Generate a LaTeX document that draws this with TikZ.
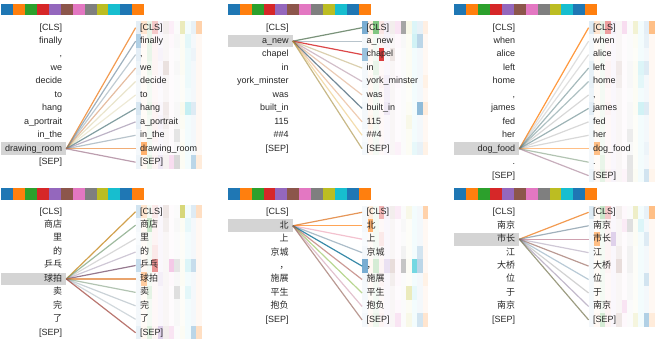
\documentclass[tikz,border=0pt]{standalone}
\usepackage{fontspec}
\setmainfont{Liberation Sans}
\newfontfamily\cjk{Noto Sans CJK SC}
\definecolor{tabblue}{HTML}{1F77B4}
\definecolor{taborange}{HTML}{FF7F0E}
\definecolor{tabgreen}{HTML}{2CA02C}
\definecolor{tabred}{HTML}{D62728}
\definecolor{tabpurple}{HTML}{9467BD}
\definecolor{tabbrown}{HTML}{8C564B}
\definecolor{tabpink}{HTML}{E377C2}
\definecolor{tabgray}{HTML}{7F7F7F}
\definecolor{tabolive}{HTML}{BCBD22}
\definecolor{tabcyan}{HTML}{17BECF}
\colorlet{hc0}{tabblue}\colorlet{hc1}{taborange}\colorlet{hc2}{tabgreen}
\colorlet{hc3}{tabred}\colorlet{hc4}{tabpurple}\colorlet{hc5}{tabbrown}
\colorlet{hc6}{tabpink}\colorlet{hc7}{tabgray}\colorlet{hc8}{tabolive}
\colorlet{hc9}{tabcyan}\colorlet{hc10}{tabblue}\colorlet{hc11}{taborange}
\tikzset{
  tokfont/.style={font=\fontsize{9}{10}\selectfont, text=black!85, inner sep=0pt, text height=6.5pt, text depth=1.8pt},
  tokL/.style={tokfont, anchor=east},
  tokR/.style={tokfont, anchor=west},
  hlbox/.style={fill=black!17, inner sep=0pt, minimum width=65pt, minimum height=12.6pt, anchor=east},
  attn/.style={line width=1.2pt},
}
% #1 id, #2 base x, #3 bar top, #4 first row y, #5 tokens, #6 source index, #7 lines, #8 heat rows
\newcommand\attnpanel[8]{%
  \pgfmathsetmacro\apbx{#2}%
  \pgfmathsetmacro\apsy{#4+(#6-1)*13.45}%
  \foreach \hk in {0,...,11} \fill[hc\hk] ({\apbx+\hk*11.9},#3) rectangle ++(11.9,11.3);
  \node[hlbox] (#1box) at ({\apbx+65},\apsy) {};
  \foreach \hrow [count=\hr from 0] in {#8} {%
    \foreach \hv [count=\hk from 0] in \hrow {%
      \fill[hc\hk, fill opacity=\hv] ({\apbx+134.3+\hk*5.5},{#4+\hr*13.45-6.725}) rectangle ++(5.5,13.45);
    }%
  }%
  \foreach \tk [count=\ti] in {#5} {%
    \node[tokL] (#1l\ti) at ({\apbx+61},{#4+(\ti-1)*13.45}) {\tk};
    \node[tokR] (#1r\ti) at ({\apbx+138.7},{#4+(\ti-1)*13.45}) {\tk};
    \coordinate (#1t\ti) at ({\apbx+134.3},{#4+(\ti-1)*13.45});
  }%
  \foreach \ti/\lc/\lo in {#7} \draw[attn, draw=\lc, draw opacity=\lo] (#1box.east) -- (#1t\ti);
}
\begin{document}
\begin{tikzpicture}[x=1pt,y=-1pt]
\useasboundingbox (0,0) rectangle (658,343);

\attnpanel{pa}{1.3}{4}{27.7}
{[CLS],finally,{,},we,decide,to,hang,a\_portrait,in\_the,drawing\_room,[SEP]}{10}
{1/taborange!85!tabbrown/.75, 2/tabblue!35!tabgray/.6, 3/tabblue!30!tabgray/.4,
 4/tabbrown!50!taborange/.45, 5/tabbrown!40!tabolive/.25, 6/tabbrown!40!tabolive/.2,
 7/tabcyan!30!tabgray!80!black/.7, 8/tabpurple!40!tabgray/.55, 9/tabblue!30!tabgray/.45,
 10/taborange!80!tabbrown/.6, 11/tabpurple!40!tabbrown/.6}
{{.12,.2,.1,.25,.08,.1,.12,.03,.3,.05,.1,.35},
 {.35,.05,.1,.05,.05,.05,.05,.05,.05,.12,.05,.05},
 {.12,.03,.1,.05,.08,.05,.03,.03,.05,.08,.08,.05},
 {.08,.03,.08,.05,.05,.18,.03,.05,.05,.08,.05,.05},
 {.05,.03,.05,.03,.05,.05,.03,.03,.03,.08,.05,.05},
 {.05,.03,.05,.03,.03,.05,.03,.03,.03,.05,.05,.05},
 {.18,.03,.08,.05,.05,.12,.03,.05,.08,.25,.15,.05},
 {.12,.03,.05,.05,.08,.1,.03,.05,.05,.05,.05,.05},
 {.05,.03,.05,.05,.05,.05,.03,.2,.03,.05,.05,.05},
 {.05,.6,.05,.03,.05,.05,.03,.05,.05,.05,.05,.05},
 {.08,.05,.1,.05,.15,.08,.25,.3,.05,.05,.3,.15}}

\attnpanel{pb}{227.8}{4}{27.7}
{[CLS],a\_new,chapel,in,york\_minster,was,built\_in,115,\#\#4,[SEP]}{2}
{1/tabgreen!35!tabgray!80!black/.75, 2/tabblue!30!tabgray/.45, 3/tabred/.85,
 4/tabolive!50!tabbrown/.4, 5/tabpurple!40!tabbrown/.4, 6/tabbrown!50!taborange/.35,
 7/tabblue!50!tabgray!70!black/.7, 8/tabbrown!40!taborange/.35, 9/taborange!50!tabolive/.35,
 10/tabolive!50!tabbrown/.6}
{{.6,.12,.6,.12,.1,.1,.2,.7,.1,.15,.1,.12},
 {.05,.05,.05,.05,.08,.05,.05,.05,.05,.2,.3,.05},
 {.45,.05,.05,.9,.05,.15,.03,.03,.05,.05,.05,.05},
 {.05,.03,.1,.03,.05,.05,.03,.03,.05,.05,.05,.05},
 {.05,.05,.05,.05,.1,.05,.05,.03,.05,.05,.05,.1},
 {.03,.05,.05,.03,.1,.05,.03,.03,.03,.05,.05,.05},
 {.05,.05,.05,.03,.15,.05,.03,.03,.05,.05,.5,.15},
 {.05,.08,.05,.03,.05,.05,.03,.03,.1,.05,.05,.05},
 {.03,.05,.05,.03,.05,.05,.03,.03,.05,.05,.05,.05},
 {.05,.05,.05,.03,.05,.05,.1,.03,.05,.1,.1,.1}}

\attnpanel{pc}{454.3}{4}{27.7}
{[CLS],when,alice,left,home,{,},james,fed,her,dog\_food,.,[SEP]}{10}
{1/taborange/.8, 2/tabgray/.25, 3/tabgray/.25, 4/tabcyan!30!tabgray!80!black/.5,
 5/tabcyan!30!tabgray!80!black/.45, 6/tabgray/.3, 7/tabcyan!30!tabgray!80!black/.55,
 8/tabgray/.3, 9/tabgray/.3, 10/taborange/.5, 11/tabgreen!30!tabgray/.5,
 12/tabpurple!40!tabbrown/.5}
{{.15,.2,.1,.45,.1,.05,.25,.03,.2,.05,.12,.5},
 {.05,.03,.05,.03,.05,.05,.03,.03,.05,.05,.1,.05},
 {.05,.03,.05,.03,.05,.05,.03,.03,.03,.05,.05,.05},
 {.1,.03,.05,.05,.05,.12,.03,.05,.05,.15,.15,.05},
 {.1,.03,.05,.05,.05,.1,.03,.05,.05,.12,.05,.05},
 {.08,.03,.05,.03,.05,.05,.03,.03,.05,.05,.05,.05},
 {.12,.03,.05,.05,.05,.05,.03,.05,.05,.2,.15,.05},
 {.05,.03,.05,.03,.05,.05,.03,.05,.03,.05,.05,.05},
 {.05,.03,.05,.03,.05,.05,.03,.15,.03,.05,.05,.05},
 {.05,.5,.05,.03,.05,.05,.03,.05,.03,.05,.08,.05},
 {.05,.03,.1,.03,.05,.05,.03,.2,.03,.05,.05,.05},
 {.08,.05,.12,.05,.08,.05,.08,.2,.05,.05,.2,.08}}

\attnpanel{pd}{1.3}{188.3}{211.7}
{[CLS],{\cjk 商店},{\cjk 里},{\cjk 的},{\cjk 乒乓},{\cjk 球拍},{\cjk 卖},{\cjk 完},{\cjk 了},[SEP]}{6}
{1/taborange!60!tabolive!85!black/.75, 2/tabgreen!40!tabgray/.6, 3/tabgray/.3,
 4/tabpurple!40!tabgray/.4, 5/tabpurple!50!tabbrown!80!black/.75, 6/taborange!70!tabbrown/.65,
 7/tabgreen!30!tabgray/.5, 8/tabblue!25!tabgray/.35, 9/tabblue!25!tabgray/.3,
 10/tabbrown!70!tabred/.75}
{{.2,.2,.05,.1,.05,.15,.03,.03,.6,.05,.15,.25},
 {.05,.05,.25,.05,.05,.1,.03,.05,.05,.1,.05,.05},
 {.03,.03,.05,.05,.05,.05,.03,.03,.03,.05,.05,.05},
 {.05,.03,.05,.1,.05,.05,.03,.03,.03,.05,.05,.05},
 {.25,.05,.05,.5,.05,.05,.4,.2,.05,.15,.25,.05},
 {.05,.4,.05,.03,.1,.05,.05,.05,.05,.05,.05,.05},
 {.05,.03,.12,.03,.05,.05,.03,.25,.03,.12,.05,.05},
 {.05,.03,.05,.03,.05,.05,.03,.05,.03,.05,.05,.05},
 {.05,.03,.05,.03,.05,.05,.03,.05,.03,.05,.05,.05},
 {.1,.05,.15,.05,.3,.1,.2,.03,.05,.05,.3,.25}}

\attnpanel{pe}{227.8}{188.3}{212.3}
{[CLS],{\cjk 北},{\cjk 上},{\cjk 京城},{\cjk ，},{\cjk 施展},{\cjk 平生},{\cjk 抱负},[SEP]}{2}
{1/taborange!70!tabbrown/.75, 2/taborange/.7, 3/tabpink!50!tabred/.35,
 4/tabblue!40!tabgray/.5, 5/tabblue!60!tabcyan!80!black/.85, 6/tabbrown!70!tabred/.55,
 7/tabgreen!50!tabolive/.5, 8/tabpink!50!tabbrown/.4, 9/tabbrown/.6}
{{.05,.15,.05,.35,.08,.1,.15,.03,.1,.05,.05,.35},
 {.05,.6,.05,.03,.05,.05,.03,.05,.03,.05,.05,.05},
 {.03,.03,.05,.1,.05,.05,.03,.03,.03,.05,.05,.05},
 {.05,.03,.05,.03,.05,.05,.03,.1,.03,.05,.2,.05},
 {.6,.05,.2,.05,.2,.2,.05,.45,.05,.6,.3,.05},
 {.05,.03,.05,.05,.05,.1,.05,.03,.03,.05,.05,.1},
 {.05,.03,.05,.03,.05,.05,.03,.03,.3,.1,.05,.05},
 {.03,.03,.05,.03,.05,.05,.05,.03,.05,.05,.05,.05},
 {.05,.05,.08,.05,.05,.05,.2,.03,.1,.05,.2,.2}}

\attnpanel{pf}{454.3}{188.3}{212.3}
{[CLS],{\cjk 南京},{\cjk 市长},{\cjk 江},{\cjk 大桥},{\cjk 位},{\cjk 于},{\cjk 南京},[SEP]}{3}
{1/taborange!85!tabbrown/.75, 2/tabblue!30!tabgray/.6, 3/tabbrown!60!tabpink/.6,
 4/tabpurple!40!tabgray/.4, 5/tabbrown/.6, 6/tabblue!50!tabgray/.4, 7/tabgray/.35,
 8/tabpurple!40!tabgray/.5, 9/tabolive!30!tabgray!80!black/.7}
{{.15,.05,.25,.25,.05,.1,.05,.03,.25,.05,.1,.5},
 {.05,.03,.05,.05,.05,.05,.15,.25,.05,.15,.05,.05},
 {.05,.5,.05,.05,.3,.05,.03,.05,.05,.05,.15,.05},
 {.05,.03,.05,.05,.05,.1,.03,.1,.03,.05,.05,.05},
 {.05,.03,.05,.05,.05,.2,.03,.1,.03,.05,.05,.05},
 {.05,.03,.05,.03,.05,.05,.03,.05,.03,.05,.2,.05},
 {.05,.03,.05,.03,.05,.05,.03,.05,.03,.05,.05,.05},
 {.05,.03,.05,.05,.05,.05,.2,.03,.03,.05,.05,.05},
 {.05,.05,.2,.05,.05,.15,.05,.03,.15,.05,.35,.15}}
\end{tikzpicture}
\end{document}
